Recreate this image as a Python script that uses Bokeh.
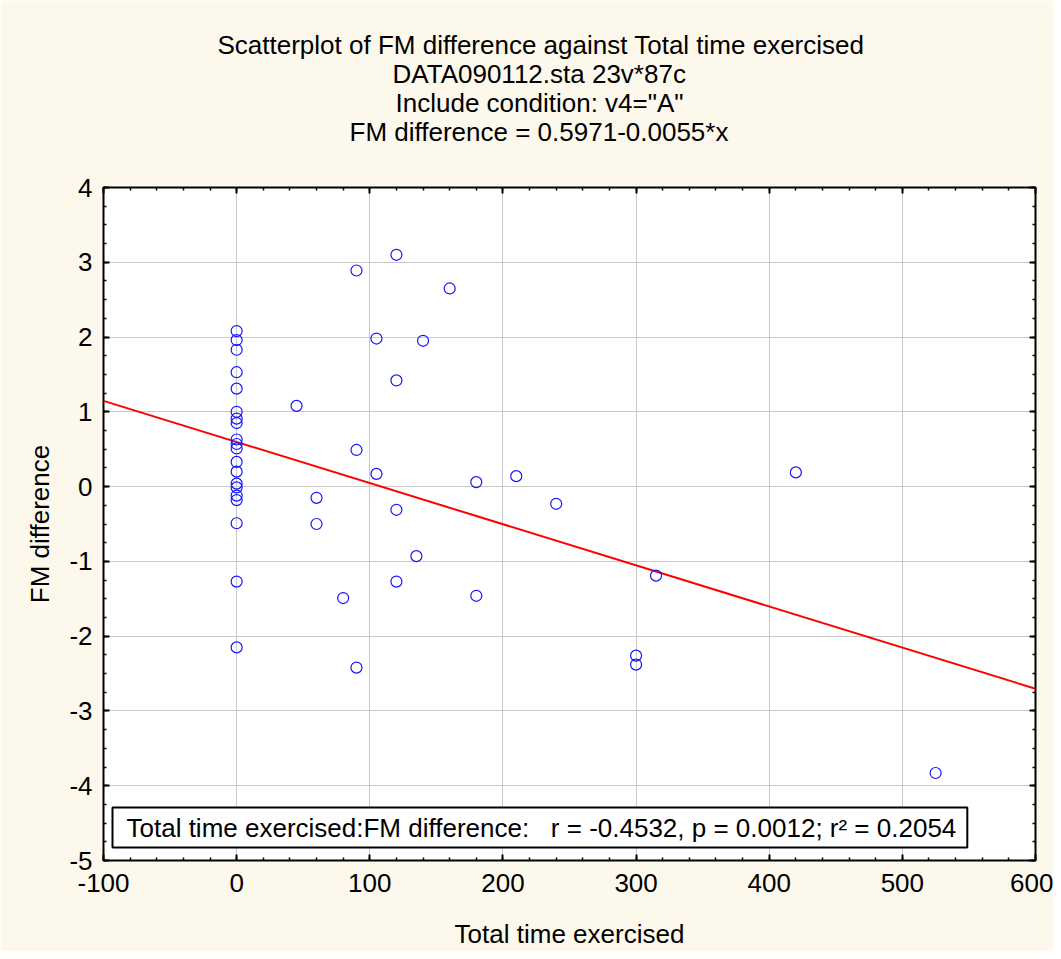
from bokeh.plotting import figure
from bokeh.models import (LinearAxis, SingleIntervalTicker, Title, Label, Range1d,
                          CustomJSTickFormatter)
from bokeh.embed import file_html
from bokeh.resources import INLINE

# ---- data ----
time_exercised = [0] * 20 + [45, 60, 60, 80, 90, 90, 90, 105, 105, 120, 120, 120, 120,
                             135, 140, 160, 180, 180, 210, 240, 300, 300, 315, 420, 525]
fm_difference = [2.08, 1.96, 1.83, 1.53, 1.31, 1.00, 0.91, 0.85, 0.63, 0.57,
                 0.51, 0.33, 0.20, 0.04, -0.01, -0.12, -0.18, -0.49, -1.27, -2.15,
                 1.08, -0.15, -0.50, -1.49, 2.89, 0.49, -2.42, 1.98, 0.17, 3.10,
                 1.42, -0.31, -1.27, -0.93, 1.95, 2.65, 0.06, -1.46, 0.14, -0.23,
                 -2.26, -2.38, -1.19, 0.19, -3.83]
intercept = 0.5971
slope = -0.0055
line_x = [-100, 600]
line_y = [intercept + slope * v for v in line_x]

x_ticks = [-100, 0, 100, 200, 300, 400, 500, 600]
x_tick_labels = ["-100", "0", "100", "200", "300", "400", "500", "600"]
y_ticks = [-5, -4, -3, -2, -1, 0, 1, 2, 3, 4]
y_tick_labels = ["-5", "-4", "-3", "-2", "-1", "0", "1", "2", "3", "4"]

title_lines = [
    "Scatterplot of FM difference against Total time exercised",
    "DATA090112.sta 23v*87c",
    'Include condition: v4="A"',
    "FM difference = 0.5971-0.0055*x",
]
stats_text = ("Total time exercised:FM difference:\u00a0\u00a0\u00a0r = -0.4532, "
              "p = 0.0012; r\u00b2 = 0.2054")
x_label = "Total time exercised"
y_label = "FM difference"

# layout: left offset (px from frame left) of each title line so that the block
# is centred at the same place as in the reference
title_left_offsets = [114, 289, 292, 246]

FONT = "Liberation Sans"
FS = "26px"
BG = "#FDF8EC"
X0, X1 = -100, 600
Y0, Y1 = -5, 4

p = figure(width=1053, height=951, output_backend="svg", toolbar_location=None,
           x_range=Range1d(X0, X1), y_range=Range1d(Y0, Y1),
           x_axis_location=None, y_axis_location=None,
           min_border_left=103, min_border_right=18, min_border_top=187,
           min_border_bottom=87)
p.title = None
p.background_fill_color = "white"
p.border_fill_color = BG
p.outline_line_color = "black"
p.outline_line_width = 2


def make_axis(ticker, labels=None, label=None):
    ax = LinearAxis(ticker=ticker)
    ax.axis_line_color = None
    ax.major_tick_in = 6
    ax.major_tick_out = 0
    ax.minor_tick_in = 3
    ax.minor_tick_out = 0
    ax.major_tick_line_color = "black"
    ax.major_tick_line_width = 2
    ax.minor_tick_line_color = "black"
    ax.minor_tick_line_width = 1.5
    if labels is not None:
        ax.major_label_text_font = FONT
        ax.major_label_text_font_size = FS
        ax.major_label_text_color = "black"
        ax.major_label_overrides = labels
    else:
        ax.formatter = CustomJSTickFormatter(code="return ''")
        ax.major_label_text_font_size = "1px"
        ax.major_label_standoff = 0
    if label:
        ax.axis_label = label
        ax.axis_label_text_font = FONT
        ax.axis_label_text_font_size = FS
        ax.axis_label_text_font_style = "normal"
        ax.axis_label_text_color = "black"
    return ax


xt = SingleIntervalTicker(interval=100, num_minor_ticks=5)
yt = SingleIntervalTicker(interval=1, num_minor_ticks=4)

bottom = make_axis(xt, dict(zip(x_ticks, x_tick_labels)), x_label)
bottom.major_label_standoff = 13
bottom.axis_label_standoff = 24
left = make_axis(yt, dict(zip(y_ticks, y_tick_labels)), y_label)
left.major_label_standoff = 11
left.axis_label_standoff = 11
top = make_axis(xt)
right = make_axis(yt)

# invisible spacer axis: opens the gap between the title block and the frame
spacer = make_axis(xt)
spacer.major_tick_line_color = None
spacer.minor_tick_line_color = None
spacer.major_tick_in = 0
spacer.minor_tick_in = 0
spacer.major_tick_out = 42

p.add_layout(bottom, "below")
p.add_layout(left, "left")
p.add_layout(top, "above")
p.add_layout(spacer, "above")
p.add_layout(right, "right")

for ln, off in reversed(list(zip(title_lines, title_left_offsets))):
    p.add_layout(Title(text=ln, align="left", offset=off, text_font=FONT,
                       text_font_size=FS, text_font_style="normal",
                       text_color="black", standoff=-3), "above")

p.xgrid.ticker = xt
p.ygrid.ticker = yt
p.xgrid.grid_line_color = "#C8C8C8"
p.ygrid.grid_line_color = "#C8C8C8"
p.xgrid.grid_line_width = 1
p.ygrid.grid_line_width = 1

p.line(line_x, line_y, line_color="#FF0000", line_width=2)
p.scatter(time_exercised, fm_difference, marker="circle", size=11,
          fill_color=None, line_color="#1515FF", line_width=1.2)

stats = Label(x=X0, y=Y0, x_offset=9, y_offset=13, text=stats_text,
              text_font=FONT, text_font_size=FS, text_color="black",
              border_line_color="black", border_line_width=2,
              background_fill_color="white",
              padding=dict(left=14, right=11, top=5, bottom=5))
p.add_layout(stats)

open("out.html", "w").write(file_html(p, INLINE))
